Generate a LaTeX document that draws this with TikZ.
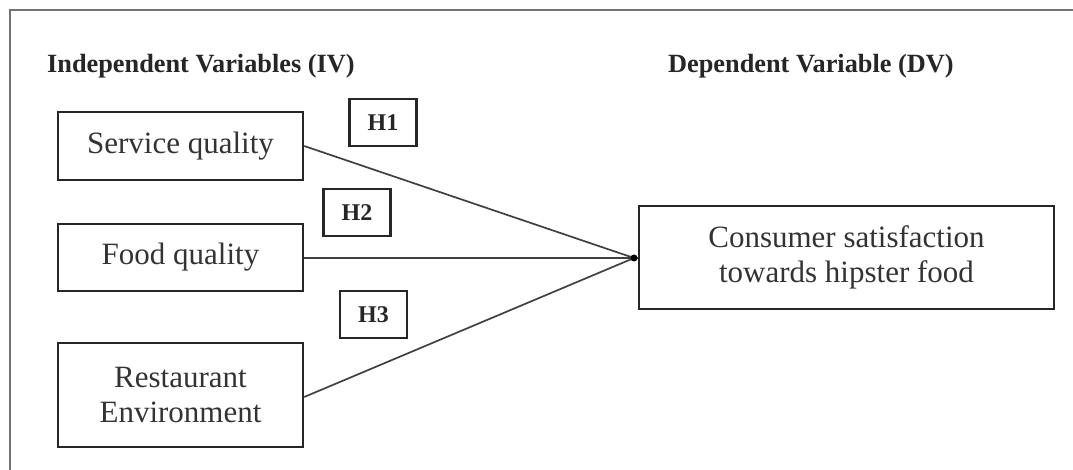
\documentclass[tikz,border=0pt]{standalone}
\usepackage{fontspec}
\setmainfont{Liberation Serif}
\begin{document}
\begin{tikzpicture}[x=1pt,y=-1pt,
  varbox/.style={draw=black!85, line width=2.4pt, inner sep=0pt, text=black!80,
    font=\fontsize{31}{35}\selectfont, align=center},
  hbox/.style={draw=black!85, line width=2.4pt, inner sep=0pt, text=black!85,
    font=\fontsize{24}{28}\selectfont\bfseries, minimum width=67pt, minimum height=47pt},
  head/.style={inner sep=0pt, anchor=west, text=black!85, font=\fontsize{26.3}{30}\selectfont\bfseries},
  link/.style={draw=black!75, line width=1.7pt}]
\useasboundingbox (0,0) rectangle (1073,470);
\draw[black!55, line width=1.8pt] (1073,10) -- (10,10) -- (10,470);
\node[head] (iv) at (47,66) {Independent Variables (IV)};
\node[head] (dv) at (668,66) {Dependent Variable (DV)};
\node[varbox, minimum width=245pt, minimum height=68pt] (sq) at (180.5,146) {Service quality};
\node[varbox, minimum width=245pt, minimum height=67pt] (fq) at (180.5,257.5) {Food quality};
\node[varbox, minimum width=245pt, minimum height=104pt] (re) at (180.5,395) {Restaurant\\Environment};
\node[varbox, minimum width=415pt, minimum height=103pt] (cs) at (846.5,257.5) {Consumer satisfaction\\towards hipster food};
\node[hbox] (h1) at (383,122.5) {H1};
\node[hbox] (h2) at (357,212.5) {H2};
\node[hbox] (h3) at (373.5,314.5) {H3};
\coordinate (j) at (634,258);
\draw[link] (sq.east) -- (j);
\draw[link] (fq.east |- j) -- (j);
\draw[link] ([yshift=-2pt]re.east) -- (j);
\draw[link] (j) -- (cs.west |- j);
\fill[black] (j) circle (3.5pt);
\end{tikzpicture}
\end{document}
